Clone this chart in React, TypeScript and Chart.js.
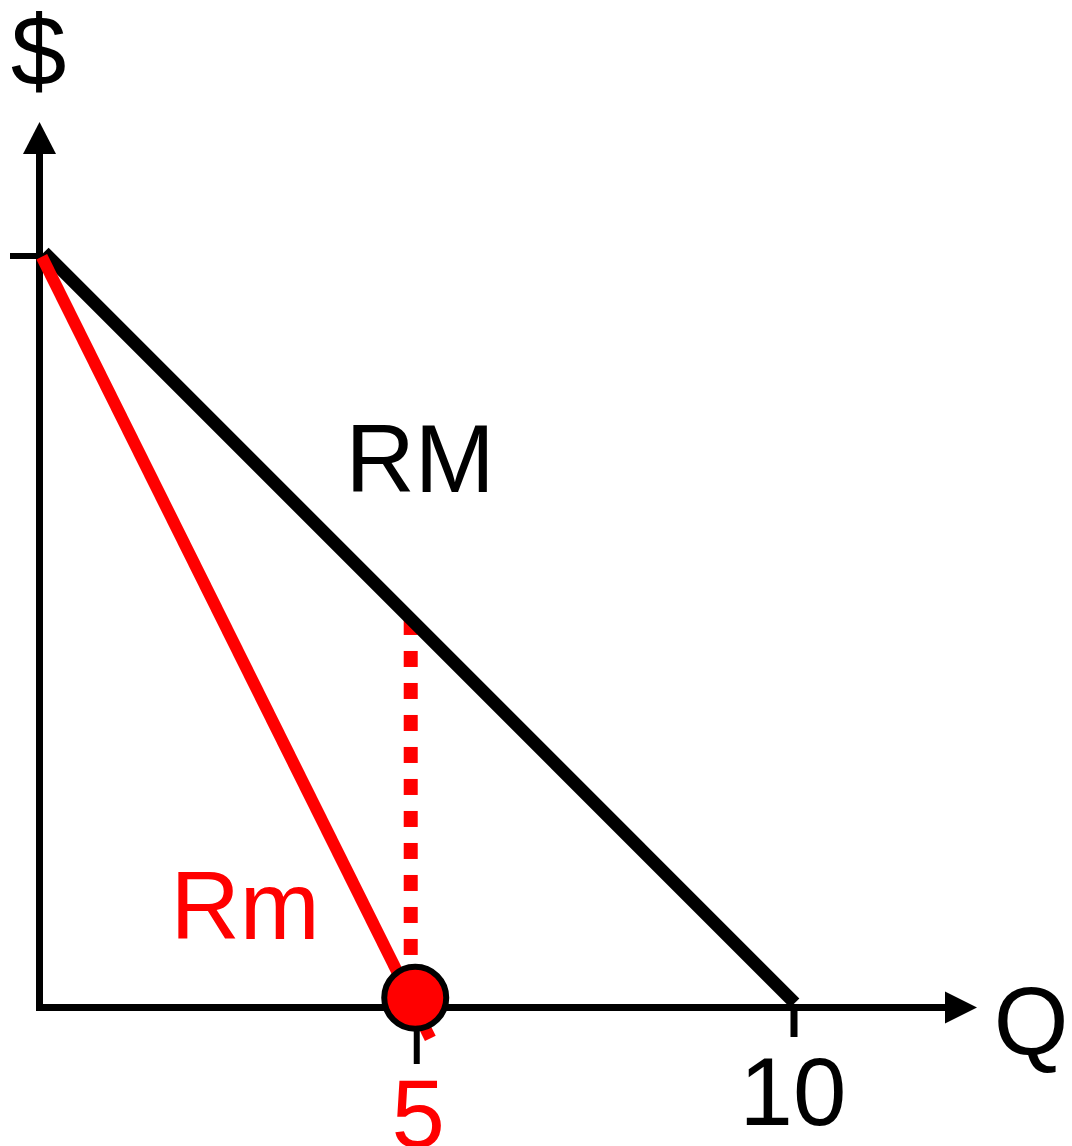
import React, { useEffect, useRef } from "react";
import { Chart, registerables } from "chart.js";

Chart.register(...registerables);

// ---- data (quantity Q on x, price $ on y) ----
const RM_Q = [0.06, 10.01];
const RM_P = [10.05, 0.06];
const RMG_Q = [0.03, 5.18];
const RMG_P = [9.99, -0.41];
const GUIDE_Q = [4.92, 4.92];
const GUIDE_P = [5.17, 0.13];
const POINT_Q = [4.98];
const POINT_P = [0.13];
const X_TICKS = [5, 10];
const X_TICK_LABELS = ["5", "10"];
const Y_TICKS = [10];

const W = 1072;
const H = 1146;
const RED = "#ff0000";
const BLACK = "#000000";
const FONT = '96px "Liberation Sans", Arial, Helvetica, sans-serif';

const zip = (xs: number[], ys: number[]) => xs.map((x, i) => ({ x, y: ys[i] }));

const axesPlugin = {
  id: "econAxes",
  beforeDatasetsDraw(chart: any) {
    const ctx = chart.ctx as CanvasRenderingContext2D;
    const xs = chart.scales.x;
    const ys = chart.scales.y;
    const x0 = xs.getPixelForValue(0);
    const y0 = ys.getPixelForValue(0);
    ctx.save();
    ctx.strokeStyle = BLACK;
    ctx.fillStyle = BLACK;
    ctx.lineCap = "butt";
    // y axis
    ctx.lineWidth = 7;
    ctx.beginPath();
    ctx.moveTo(x0, y0 + 3.5);
    ctx.lineTo(x0, 150);
    ctx.stroke();
    // x axis
    ctx.beginPath();
    ctx.moveTo(x0 - 3.5, y0);
    ctx.lineTo(948, y0);
    ctx.stroke();
    // arrows
    ctx.beginPath();
    ctx.moveTo(x0, 122);
    ctx.lineTo(x0 - 16.5, 154);
    ctx.lineTo(x0 + 16.5, 154);
    ctx.closePath();
    ctx.fill();
    ctx.beginPath();
    ctx.moveTo(977, y0);
    ctx.lineTo(945, y0 - 16);
    ctx.lineTo(945, y0 + 16);
    ctx.closePath();
    ctx.fill();
    // y ticks
    ctx.lineWidth = 6;
    Y_TICKS.forEach((v) => {
      const py = ys.getPixelForValue(v);
      ctx.beginPath();
      ctx.moveTo(10, py);
      ctx.lineTo(x0, py);
      ctx.stroke();
    });
    // x ticks
    const tickEnds = [1064, 1037];
    const tickWidths = [6, 7];
    X_TICKS.forEach((v, i) => {
      const px = xs.getPixelForValue(v);
      ctx.lineWidth = tickWidths[i];
      ctx.beginPath();
      ctx.moveTo(px, y0);
      ctx.lineTo(px, tickEnds[i]);
      ctx.stroke();
    });
    ctx.restore();
  },
  afterDatasetsDraw(chart: any) {
    const ctx = chart.ctx as CanvasRenderingContext2D;
    const xs = chart.scales.x;
    const x0 = xs.getPixelForValue(0);
    ctx.save();
    ctx.font = FONT;
    ctx.textBaseline = "alphabetic";
    // axis titles
    ctx.fillStyle = BLACK;
    ctx.textAlign = "center";
    ctx.font = '100px "Liberation Sans", Arial, Helvetica, sans-serif';
    ctx.fillText("$", x0 - 1, 85);
    ctx.font = FONT;
    ctx.fillText("Q", 1031, 1055);
    // tick labels
    const labelColors = [RED, BLACK];
    const labelBase = [1147, 1125];
    const labelDx = [1.5, -1];
    X_TICKS.forEach((v, i) => {
      ctx.fillStyle = labelColors[i];
      ctx.fillText(X_TICK_LABELS[i], xs.getPixelForValue(v) + labelDx[i], labelBase[i]);
    });
    // curve labels
    ctx.textAlign = "left";
    ctx.fillStyle = BLACK;
    ctx.fillText("RM", 345.5, 492);
    ctx.fillStyle = RED;
    ctx.fillText("Rm", 170.5, 939);
    ctx.restore();
  },
};

export default function App() {
  const ref = useRef<HTMLCanvasElement | null>(null);
  useEffect(() => {
    document.body.style.margin = "0";
    document.body.style.background = "#ffffff";
    const canvas = ref.current!;
    const chart = new Chart(canvas, {
      type: "scatter",
      data: {
        datasets: [
          {
            label: "point",
            data: zip(POINT_Q, POINT_P),
            showLine: false,
            pointRadius: 31,
            pointBorderWidth: 6,
            pointBackgroundColor: RED,
            pointBorderColor: BLACK,
            clip: false,
            order: 0,
          } as any,
          {
            label: "Rm",
            data: zip(RMG_Q, RMG_P),
            showLine: true,
            borderColor: RED,
            borderWidth: 12,
            pointRadius: 0,
            tension: 0,
            clip: false,
            order: 1,
          },
          {
            label: "RM",
            data: zip(RM_Q, RM_P),
            showLine: true,
            borderColor: BLACK,
            borderWidth: 13,
            pointRadius: 0,
            tension: 0,
            clip: false,
            order: 2,
          },
          {
            label: "guide",
            data: zip(GUIDE_Q, GUIDE_P),
            showLine: true,
            borderColor: RED,
            borderWidth: 14,
            borderDash: [16, 16],
            pointRadius: 0,
            tension: 0,
            clip: false,
            order: 3,
          },
        ],
      },
      options: {
        responsive: false,
        animation: false,
        events: [],
        devicePixelRatio: 1,
        layout: { padding: { left: 39.5, right: W - 794, top: 256, bottom: H - 1007.5 } },
        plugins: { legend: { display: false }, tooltip: { enabled: false } },
        scales: {
          x: { type: "linear", display: false, min: 0, max: 10 },
          y: { type: "linear", display: false, min: 0, max: 10 },
        },
      },
      plugins: [axesPlugin],
    });
    return () => chart.destroy();
  }, []);
  return (
    <div style={{ position: "fixed", left: 0, top: 0, width: W, height: H, background: "#fff" }}>
      <canvas ref={ref} width={W} height={H} style={{ display: "block", width: W, height: H }} />
    </div>
  );
}
